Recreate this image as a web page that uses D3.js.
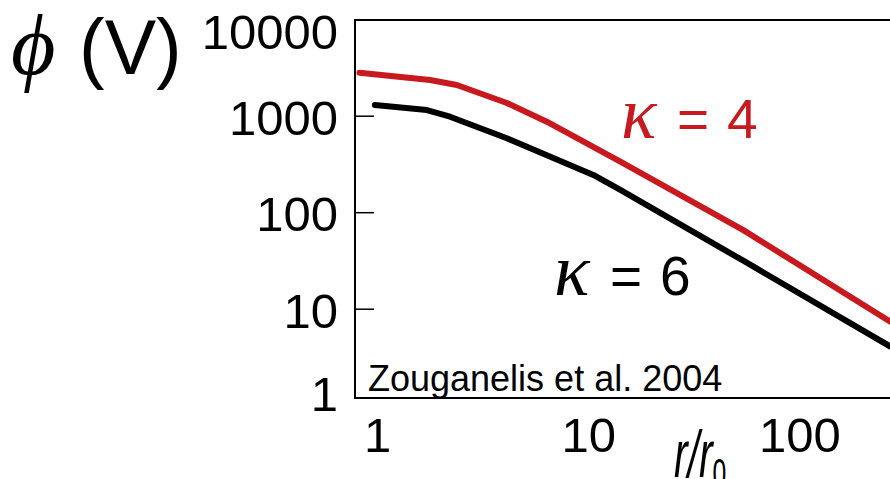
<!DOCTYPE html>
<html>
<head>
<meta charset="utf-8">
<script src="https://d3js.org/d3.v7.min.js"></script>
<style>
  body { margin: 0; background: #fff; }
  svg { display: block; }
  text { font-family: "Liberation Sans", Arial, sans-serif; }
</style>
</head>
<body>
<div id="chart"></div>
<script>
// values (Zouganelis et al. 2004)
var kappa4_r   = [0.82, 1.77, 2.37, 4.09, 6.32, 14.1, 53.9, 268];
var kappa4_phi = [2825, 2371, 2105, 1371, 877, 338, 66, 7.4];

var kappa6_r   = [0.97, 1.71, 2.20, 4.09, 10.5, 14.1, 53.9, 268];
var kappa6_phi = [1306, 1159, 988, 590, 246, 172, 31.8, 4.1];

var yTicks = [10000, 1000, 100, 10, 1];
var xTicks = [1, 10, 100];

var red = "#c8191f";

var svg = d3.select("#chart")
            .append("svg")
            .attr("width", 890)
            .attr("height", 479);

// plot box (right side runs off the picture)
var boxL = 355, boxT = 20, boxB = 398, boxR = 900;

var x = d3.scaleLog()
          .domain([1, 100])
          .range([377.7, 800]);

var y = d3.scaleLog()
          .domain([1, 10000])
          .range([405.7, 19.7]);

svg.append("defs").append("clipPath")
   .attr("id", "plotclip")
   .append("rect")
   .attr("x", boxL).attr("y", boxT)
   .attr("width", boxR - boxL).attr("height", boxB - boxT);

// frame
svg.append("path")
   .attr("d", "M" + boxR + "," + boxT + "H" + boxL + "V" + boxB + "H" + boxR)
   .attr("fill", "none")
   .attr("stroke", "#000")
   .attr("stroke-width", 2);

// inward y ticks
svg.selectAll(".ytick")
   .data(yTicks.filter(function(d) { return d > 1 && d < 10000; }))
   .enter().append("line")
   .attr("x1", boxL).attr("x2", boxL + 19)
   .attr("y1", function(d) { return y(d); })
   .attr("y2", function(d) { return y(d); })
   .attr("stroke", "#000")
   .attr("stroke-width", 1.5);

// y tick labels
svg.selectAll(".ylab")
   .data(yTicks)
   .enter().append("text")
   .attr("x", 338)
   .attr("y", function(d) { return Math.min(Math.max(y(d), 30), 392); })
   .attr("dy", "0.38em")
   .attr("text-anchor", "end")
   .style("font-size", "49px")
   .text(function(d) { return d; });

// x tick labels
svg.selectAll(".xlab")
   .data(xTicks)
   .enter().append("text")
   .attr("x", function(d) { return x(d); })
   .attr("y", 452)
   .attr("text-anchor", "middle")
   .style("font-size", "49px")
   .text(function(d) { return d; });

var line = d3.line()
             .x(function(d) { return x(d[0]); })
             .y(function(d) { return y(d[1]); });

var plot = svg.append("g").attr("clip-path", "url(#plotclip)");

plot.append("path")
    .datum(d3.zip(kappa6_r, kappa6_phi))
    .attr("d", line)
    .attr("fill", "none")
    .attr("stroke", "#000")
    .attr("stroke-width", 6)
    .attr("stroke-linecap", "round")
    .attr("stroke-linejoin", "round");

plot.append("path")
    .datum(d3.zip(kappa4_r, kappa4_phi))
    .attr("d", line)
    .attr("fill", "none")
    .attr("stroke", red)
    .attr("stroke-width", 6)
    .attr("stroke-linecap", "round")
    .attr("stroke-linejoin", "round");

// curve labels
function kappaLabel(px, py, val, col) {
  var t = svg.append("text").attr("y", py).attr("fill", col);
  t.append("tspan")
   .attr("x", px)
   .style("font-family", "'Liberation Serif', 'DejaVu Serif', serif")
   .style("font-style", "italic")
   .style("font-size", "74px")
   .text("\u03BA");
  t.append("tspan")
   .attr("x", px + 56)
   .style("font-size", "55px")
   .text("=");
  t.append("tspan")
   .attr("x", px + 106)
   .style("font-size", "55px")
   .text(val);
}
kappaLabel(621, 138, "4", red);
kappaLabel(554, 295, "6", "#000");

// citation
svg.append("text")
   .attr("x", 368)
   .attr("y", 391)
   .style("font-size", "36px")
   .text("Zouganelis et al. 2004");

// y axis title
var yt = svg.append("text").attr("y", 74);
yt.append("tspan")
  .attr("x", 11)
  .style("font-family", "'Liberation Serif', 'DejaVu Serif', serif")
  .style("font-style", "italic")
  .style("font-size", "86px")
  .text("\u03D5");
yt.append("tspan")
  .attr("x", 79)
  .style("font-size", "77px")
  .text("(V)");

// x axis title
var xt = svg.append("text")
  .attr("transform", "translate(674,477) scale(0.62,1)")
  .style("font-size", "66px")
  .style("font-style", "italic");
xt.append("tspan").text("r/r");
xt.append("tspan")
  .attr("dy", 10)
  .style("font-style", "normal")
  .style("font-size", "40px")
  .text("0");
</script>
</body>
</html>
